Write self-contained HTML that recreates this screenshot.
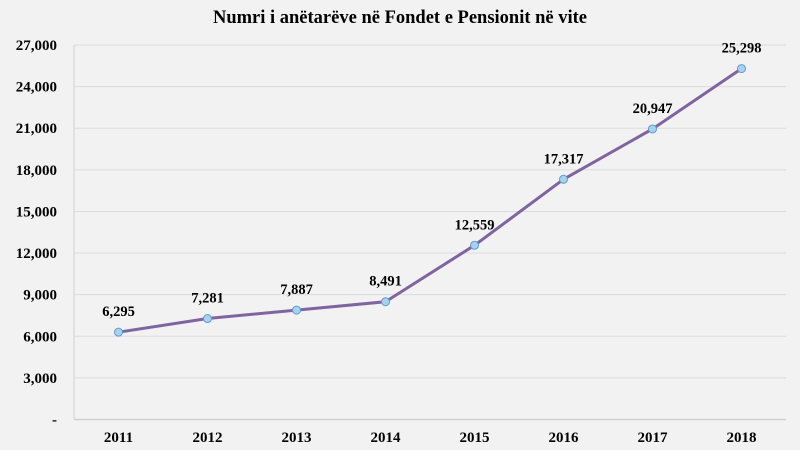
<!DOCTYPE html>
<html><head><meta charset="utf-8"><style>
html,body{margin:0;padding:0;background:#f2f2f2;}
svg{display:block;font-family:"Liberation Serif",serif;}
</style></head><body>
<svg id="chart" width="800" height="450">
<rect x="0" y="0" width="800" height="450" fill="#f2f2f2"/>
<text x="400" y="23" text-anchor="middle" font-size="18.5" font-weight="bold" fill="#000">Numri  i anëtarëve në Fondet e Pensionit në vite</text>
<g id="grid"></g><g id="yaxis"></g><g id="xaxis"></g><g id="series"></g>
</svg>
<script>
const categories = ["2011","2012","2013","2014","2015","2016","2017","2018"];
const values = [6295,7281,7887,8491,12559,17317,20947,25298];
const valueLabels = ["6,295","7,281","7,887","8,491","12,559","17,317","20,947","25,298"];
const yTicks = [0,3000,6000,9000,12000,15000,18000,21000,24000,27000];
const yTickLabels = ["-","3,000","6,000","9,000","12,000","15,000","18,000","21,000","24,000","27,000"];
const NS="http://www.w3.org/2000/svg";
const L=74, R=786, T=45, B=419.5, yMax=27000;
const y = v => B - v/yMax*(B-T);
const band=(R-L)/categories.length;
const x = i => L + band*(i+0.5);
function mk(tag, attrs, parent){const e=document.createElementNS(NS,tag);for(const k in attrs)e.setAttribute(k,attrs[k]);parent.appendChild(e);return e;}
const grid=document.getElementById('grid'), ya=document.getElementById('yaxis'), xa=document.getElementById('xaxis'), se=document.getElementById('series');
yTicks.forEach((t,i)=>{
  if(t>0){const g=mk('line',{x1:L,x2:R,y1:y(t),y2:y(t),stroke:'#dcdcdc','stroke-width':1},grid);
  
  }
  const tx=mk('text',{x:57,y:y(t)+5,'text-anchor':'end','font-size':15,'font-weight':'bold',fill:'#000'},ya);
  tx.textContent=yTickLabels[i];
  
  
});
const ax=mk('line',{x1:L,x2:R,y1:B,y2:B,stroke:'#d0d0d0','stroke-width':1.5},xa);


const ay=mk('line',{x1:L,x2:L,y1:T,y2:B,stroke:'#d0d0d0','stroke-width':1},ya);


categories.forEach((c,i)=>{
  const tx=mk('text',{x:x(i),y:442,'text-anchor':'middle','font-size':15,'font-weight':'bold',fill:'#000'},xa);
  tx.textContent=c;
  
  
});
const pts=values.map((v,i)=>x(i)+','+y(v)).join(' ');
const pl=mk('polyline',{points:pts,fill:'none',stroke:'#8064a2','stroke-width':3,'stroke-linejoin':'round'},se);


values.forEach((v,i)=>{
  const c=mk('circle',{cx:x(i),cy:y(v),r:4,fill:'#a8d2ec',stroke:'#5b9bd5','stroke-width':1},se);
  
  
  const t=mk('text',{x:x(i),y:y(v)-16,'text-anchor':'middle','font-size':14.5,'font-weight':'bold',fill:'#000'},se);
  t.textContent=valueLabels[i];
  
  
});
</script>
</body></html>
